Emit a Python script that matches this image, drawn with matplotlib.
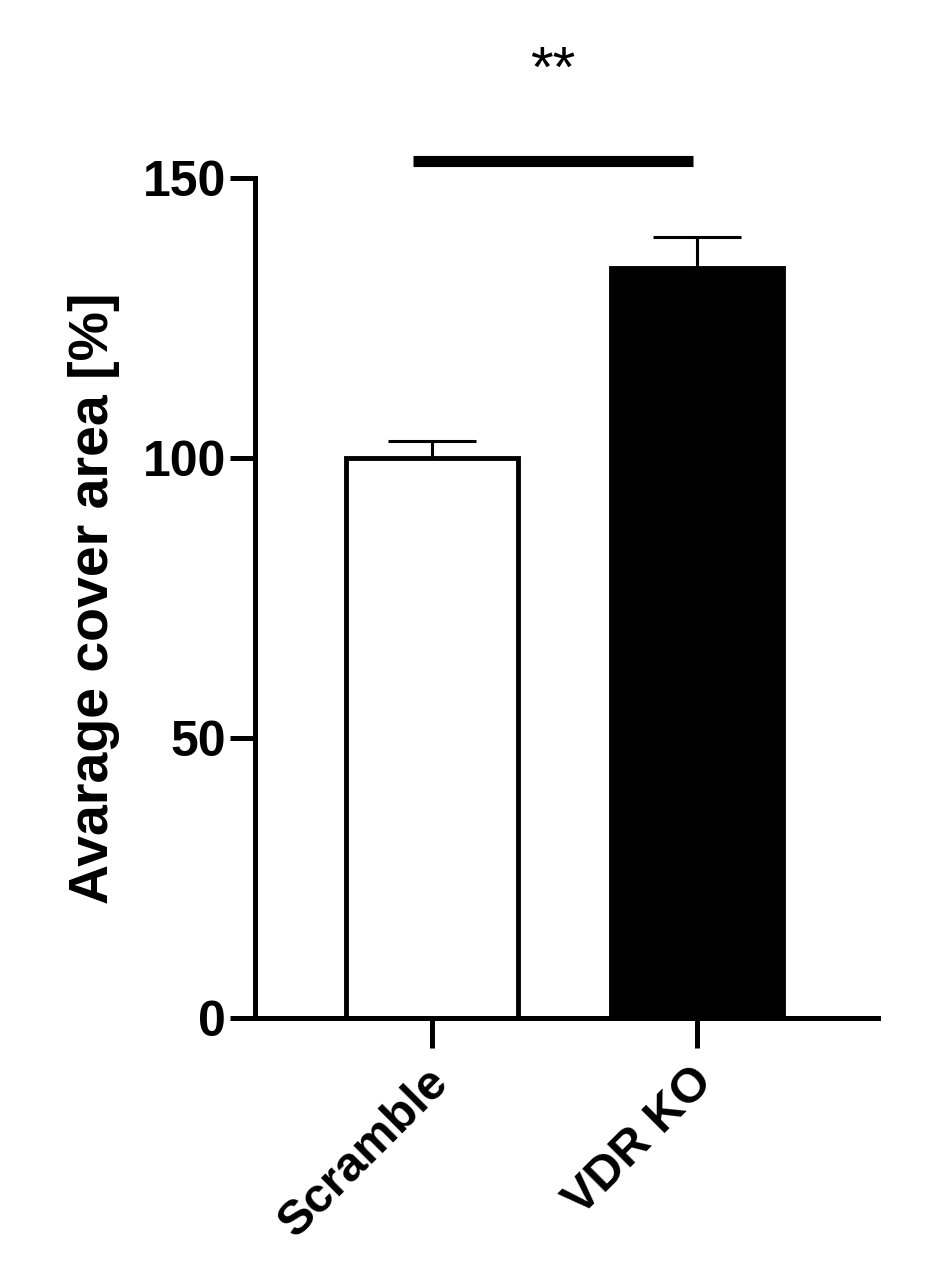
import matplotlib
matplotlib.use("Agg")
import matplotlib.pyplot as plt
from matplotlib.transforms import ScaledTranslation

plt.rcParams['font.family'] = ['Liberation Sans', 'DejaVu Sans']
plt.rcParams['font.weight'] = 'bold'

categories = ["Scramble", "VDR KO"]
means = [100, 134]
errors = [3, 5.5]
colors = ["white", "black"]
sig_label = "**"
sig_y = 153
yticks = [0, 50, 100, 150]

fig = plt.figure(figsize=(9.26, 12.88), dpi=100)
ax = fig.add_axes([255/926, 270/1288, 623/926, 840/1288])

x = list(range(len(categories)))
ax.errorbar(x, means, yerr=[[0]*len(errors), errors], fmt='none', ecolor='black',
            elinewidth=2.2, capsize=32, capthick=2.2, zorder=1)
ax.bar(x, means, width=0.65, color=colors, edgecolor='black', linewidth=3.5, zorder=2)

ax.set_xlim(-0.668, 1.683)
ax.set_ylim(0, 150)
ax.set_yticks(yticks)
ax.set_xticks(x)
ax.set_xticklabels(categories, rotation=45, ha='right', rotation_mode='anchor')

for s in ['top', 'right']:
    ax.spines[s].set_visible(False)
for s in ['left', 'bottom']:
    ax.spines[s].set_linewidth(3.6)
ax.tick_params(axis='y', length=18, width=3.6, labelsize=36, pad=3)
ax.tick_params(axis='x', length=21.6, width=3.6, labelsize=35, pad=8)

offset = ScaledTranslation(-7/100, 0, fig.dpi_scale_trans)
for lbl in ax.get_xticklabels():
    lbl.set_transform(lbl.get_transform() + offset)

ax.set_ylabel("Avarage cover area [%]", fontsize=40, fontweight='bold', labelpad=16)

ax.plot([-0.07, 0.985], [sig_y, sig_y], color='black', lw=8, clip_on=False, solid_capstyle='butt')
ax.text(0.457, 166.3, sig_label, ha='center', va='baseline', fontsize=42, fontweight='normal', clip_on=False)

fig.savefig("out.png", dpi=100)
